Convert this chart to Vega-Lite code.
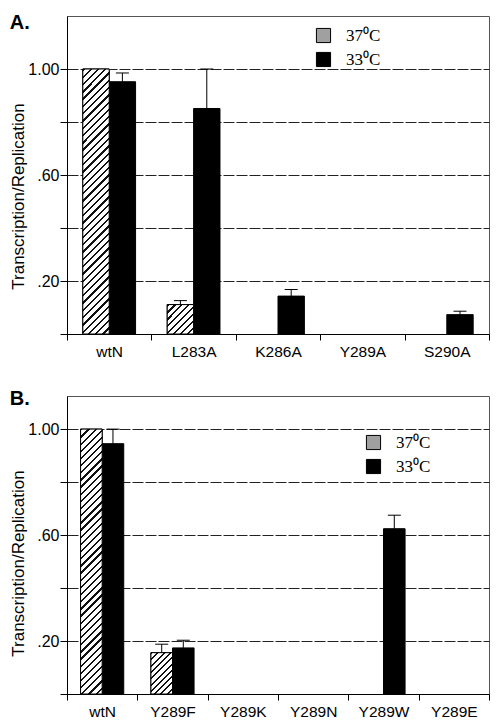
{
  "$schema": "https://vega.github.io/schema/vega-lite/v6.json",
  "padding": {"left": 9, "top": 12, "right": 3, "bottom": 0},
  "spacing": 28,
  "background": "white",
  "config": {
    "view": {"stroke": "#555", "strokeWidth": 1},
    "font": "Liberation Sans",
    "axisX": {"title": null, "labelAngle": 0, "tickBand": "extent", "tickSize": 6, "tickColor": "black", "domainColor": "black", "labelPadding": 4, "labelFontSize": 15.5, "labelColor": "black", "grid": false},
    "axisY": {"labelExpr": "datum.value == 1 ? '1.00' : datum.value == 0.6 ? '.60' : datum.value == 0.2 ? '.20' : ''", "grid": true, "gridDash": [11, 2], "gridColor": "#222", "gridOpacity": 1, "tickSize": 7, "tickColor": "black", "domainColor": "black", "labelPadding": 1, "labelFontSize": 16, "labelColor": "black", "titleFontSize": 17, "titleFontWeight": "normal", "titleColor": "black", "titlePadding": 0},
    "legend": {"title": null, "orient": "none", "symbolType": "square", "symbolSize": 200, "symbolStrokeColor": "black", "symbolStrokeWidth": 1, "symbolOpacity": 1, "labelFont": "Liberation Serif", "labelFontSize": 17, "labelOffset": 14, "rowPadding": 5, "labelColor": "black"}
  },
  "datasets": {
    "A": [
      {"mutant": "wtN", "temp": "37⁰C", "value": 1.0, "upper": null},
      {"mutant": "wtN", "temp": "33⁰C", "value": 0.952, "upper": 0.985},
      {"mutant": "L283A", "temp": "37⁰C", "value": 0.111, "upper": 0.126},
      {"mutant": "L283A", "temp": "33⁰C", "value": 0.851, "upper": 1.0},
      {"mutant": "K286A", "temp": "37⁰C", "value": 0, "upper": null},
      {"mutant": "K286A", "temp": "33⁰C", "value": 0.143, "upper": 0.168},
      {"mutant": "Y289A", "temp": "37⁰C", "value": 0, "upper": null},
      {"mutant": "Y289A", "temp": "33⁰C", "value": 0, "upper": null},
      {"mutant": "S290A", "temp": "37⁰C", "value": 0, "upper": null},
      {"mutant": "S290A", "temp": "33⁰C", "value": 0.073, "upper": 0.086}
    ],
    "B": [
      {"mutant": "wtN", "temp": "37⁰C", "value": 1.0, "upper": null},
      {"mutant": "wtN", "temp": "33⁰C", "value": 0.945, "upper": 1.0},
      {"mutant": "Y289F", "temp": "37⁰C", "value": 0.156, "upper": 0.188},
      {"mutant": "Y289F", "temp": "33⁰C", "value": 0.174, "upper": 0.203},
      {"mutant": "Y289K", "temp": "37⁰C", "value": 0, "upper": null},
      {"mutant": "Y289K", "temp": "33⁰C", "value": 0, "upper": null},
      {"mutant": "Y289N", "temp": "37⁰C", "value": 0, "upper": null},
      {"mutant": "Y289N", "temp": "33⁰C", "value": 0, "upper": null},
      {"mutant": "Y289W", "temp": "37⁰C", "value": 0, "upper": null},
      {"mutant": "Y289W", "temp": "33⁰C", "value": 0.624, "upper": 0.675},
      {"mutant": "Y289E", "temp": "37⁰C", "value": 0, "upper": null},
      {"mutant": "Y289E", "temp": "33⁰C", "value": 0, "upper": null}
    ]
  },
  "vconcat": [
    {
      "title": {"text": "A.", "anchor": "start", "frame": "bounds", "offset": 4, "dy": 21, "fontSize": 20, "fontWeight": "bold", "font": "Liberation Sans", "color": "black"},
      "width": 422,
      "height": 318,
      "data": {"name": "A"},
      "encoding": {
        "x": {"field": "mutant", "type": "nominal", "sort": null, "scale": {"domain": ["wtN", "L283A", "K286A", "Y289A", "S290A"], "paddingInner": 0, "paddingOuter": 0}},
        "xOffset": {"field": "temp", "type": "nominal", "sort": ["37⁰C", "33⁰C"], "scale": {"domain": ["37⁰C", "33⁰C"], "paddingInner": 0, "paddingOuter": 0.6}},
        "y": {"field": "value", "type": "quantitative", "title": "Transcription/Replication", "scale": {"domain": [0, 1.2], "nice": false}, "axis": {"values": [0, 0.2, 0.4, 0.6, 0.8, 1], "titleY": 180}}
      },
      "layer": [
        {
          "transform": [{"filter": "datum.value > 0"}],
          "mark": {"type": "bar", "stroke": "black", "strokeWidth": 1},
          "encoding": {
            "color": {"field": "temp", "type": "nominal", "sort": ["37⁰C", "33⁰C"], "scale": {"domain": ["37⁰C", "33⁰C"], "range": ["#a0a0a0", "black"]},
              "legend": {"legendX": 248, "legendY": 11}}
          }
        },
        {
          "transform": [{"filter": "datum.temp === '37⁰C' && datum.value > 0.5"}],
          "mark": {"type": "bar", "stroke": "black", "strokeWidth": 1, "fill": {"gradient": "linear", "x1": 0, "y1": 0, "x2": 0.1085, "y2": 1.0888, "stops": [
            {"offset": 0, "color": "#111"}, {"offset": 0.008, "color": "#111"}, {"offset": 0.008, "color": "#fff"}, {"offset": 0.025, "color": "#fff"},
            {"offset": 0.025, "color": "#111"}, {"offset": 0.033, "color": "#111"}, {"offset": 0.033, "color": "#fff"}, {"offset": 0.05, "color": "#fff"},
            {"offset": 0.05, "color": "#111"}, {"offset": 0.058, "color": "#111"}, {"offset": 0.058, "color": "#fff"}, {"offset": 0.075, "color": "#fff"},
            {"offset": 0.075, "color": "#111"}, {"offset": 0.083, "color": "#111"}, {"offset": 0.083, "color": "#fff"}, {"offset": 0.1, "color": "#fff"},
            {"offset": 0.1, "color": "#111"}, {"offset": 0.108, "color": "#111"}, {"offset": 0.108, "color": "#fff"}, {"offset": 0.125, "color": "#fff"},
            {"offset": 0.125, "color": "#111"}, {"offset": 0.133, "color": "#111"}, {"offset": 0.133, "color": "#fff"}, {"offset": 0.15, "color": "#fff"},
            {"offset": 0.15, "color": "#111"}, {"offset": 0.158, "color": "#111"}, {"offset": 0.158, "color": "#fff"}, {"offset": 0.175, "color": "#fff"},
            {"offset": 0.175, "color": "#111"}, {"offset": 0.183, "color": "#111"}, {"offset": 0.183, "color": "#fff"}, {"offset": 0.2, "color": "#fff"},
            {"offset": 0.2, "color": "#111"}, {"offset": 0.208, "color": "#111"}, {"offset": 0.208, "color": "#fff"}, {"offset": 0.225, "color": "#fff"},
            {"offset": 0.225, "color": "#111"}, {"offset": 0.233, "color": "#111"}, {"offset": 0.233, "color": "#fff"}, {"offset": 0.25, "color": "#fff"},
            {"offset": 0.25, "color": "#111"}, {"offset": 0.258, "color": "#111"}, {"offset": 0.258, "color": "#fff"}, {"offset": 0.275, "color": "#fff"},
            {"offset": 0.275, "color": "#111"}, {"offset": 0.283, "color": "#111"}, {"offset": 0.283, "color": "#fff"}, {"offset": 0.3, "color": "#fff"},
            {"offset": 0.3, "color": "#111"}, {"offset": 0.308, "color": "#111"}, {"offset": 0.308, "color": "#fff"}, {"offset": 0.325, "color": "#fff"},
            {"offset": 0.325, "color": "#111"}, {"offset": 0.333, "color": "#111"}, {"offset": 0.333, "color": "#fff"}, {"offset": 0.35, "color": "#fff"},
            {"offset": 0.35, "color": "#111"}, {"offset": 0.358, "color": "#111"}, {"offset": 0.358, "color": "#fff"}, {"offset": 0.375, "color": "#fff"},
            {"offset": 0.375, "color": "#111"}, {"offset": 0.383, "color": "#111"}, {"offset": 0.383, "color": "#fff"}, {"offset": 0.4, "color": "#fff"},
            {"offset": 0.4, "color": "#111"}, {"offset": 0.408, "color": "#111"}, {"offset": 0.408, "color": "#fff"}, {"offset": 0.425, "color": "#fff"},
            {"offset": 0.425, "color": "#111"}, {"offset": 0.433, "color": "#111"}, {"offset": 0.433, "color": "#fff"}, {"offset": 0.45, "color": "#fff"},
            {"offset": 0.45, "color": "#111"}, {"offset": 0.458, "color": "#111"}, {"offset": 0.458, "color": "#fff"}, {"offset": 0.475, "color": "#fff"},
            {"offset": 0.475, "color": "#111"}, {"offset": 0.483, "color": "#111"}, {"offset": 0.483, "color": "#fff"}, {"offset": 0.5, "color": "#fff"},
            {"offset": 0.5, "color": "#111"}, {"offset": 0.508, "color": "#111"}, {"offset": 0.508, "color": "#fff"}, {"offset": 0.525, "color": "#fff"},
            {"offset": 0.525, "color": "#111"}, {"offset": 0.533, "color": "#111"}, {"offset": 0.533, "color": "#fff"}, {"offset": 0.55, "color": "#fff"},
            {"offset": 0.55, "color": "#111"}, {"offset": 0.558, "color": "#111"}, {"offset": 0.558, "color": "#fff"}, {"offset": 0.575, "color": "#fff"},
            {"offset": 0.575, "color": "#111"}, {"offset": 0.583, "color": "#111"}, {"offset": 0.583, "color": "#fff"}, {"offset": 0.6, "color": "#fff"},
            {"offset": 0.6, "color": "#111"}, {"offset": 0.608, "color": "#111"}, {"offset": 0.608, "color": "#fff"}, {"offset": 0.625, "color": "#fff"},
            {"offset": 0.625, "color": "#111"}, {"offset": 0.633, "color": "#111"}, {"offset": 0.633, "color": "#fff"}, {"offset": 0.65, "color": "#fff"},
            {"offset": 0.65, "color": "#111"}, {"offset": 0.658, "color": "#111"}, {"offset": 0.658, "color": "#fff"}, {"offset": 0.675, "color": "#fff"},
            {"offset": 0.675, "color": "#111"}, {"offset": 0.683, "color": "#111"}, {"offset": 0.683, "color": "#fff"}, {"offset": 0.7, "color": "#fff"},
            {"offset": 0.7, "color": "#111"}, {"offset": 0.708, "color": "#111"}, {"offset": 0.708, "color": "#fff"}, {"offset": 0.725, "color": "#fff"},
            {"offset": 0.725, "color": "#111"}, {"offset": 0.733, "color": "#111"}, {"offset": 0.733, "color": "#fff"}, {"offset": 0.75, "color": "#fff"},
            {"offset": 0.75, "color": "#111"}, {"offset": 0.758, "color": "#111"}, {"offset": 0.758, "color": "#fff"}, {"offset": 0.775, "color": "#fff"},
            {"offset": 0.775, "color": "#111"}, {"offset": 0.783, "color": "#111"}, {"offset": 0.783, "color": "#fff"}, {"offset": 0.8, "color": "#fff"},
            {"offset": 0.8, "color": "#111"}, {"offset": 0.808, "color": "#111"}, {"offset": 0.808, "color": "#fff"}, {"offset": 0.825, "color": "#fff"},
            {"offset": 0.825, "color": "#111"}, {"offset": 0.833, "color": "#111"}, {"offset": 0.833, "color": "#fff"}, {"offset": 0.85, "color": "#fff"},
            {"offset": 0.85, "color": "#111"}, {"offset": 0.858, "color": "#111"}, {"offset": 0.858, "color": "#fff"}, {"offset": 0.875, "color": "#fff"},
            {"offset": 0.875, "color": "#111"}, {"offset": 0.883, "color": "#111"}, {"offset": 0.883, "color": "#fff"}, {"offset": 0.9, "color": "#fff"},
            {"offset": 0.9, "color": "#111"}, {"offset": 0.908, "color": "#111"}, {"offset": 0.908, "color": "#fff"}, {"offset": 0.925, "color": "#fff"},
            {"offset": 0.925, "color": "#111"}, {"offset": 0.933, "color": "#111"}, {"offset": 0.933, "color": "#fff"}, {"offset": 0.95, "color": "#fff"},
            {"offset": 0.95, "color": "#111"}, {"offset": 0.958, "color": "#111"}, {"offset": 0.958, "color": "#fff"}, {"offset": 0.975, "color": "#fff"},
            {"offset": 0.975, "color": "#111"}, {"offset": 0.983, "color": "#111"}, {"offset": 0.983, "color": "#fff"}, {"offset": 1, "color": "#fff"}
          ]}}
        },
        {
          "transform": [{"filter": "datum.temp === '37⁰C' && datum.value > 0 && datum.value <= 0.5"}],
          "mark": {"type": "bar", "stroke": "black", "strokeWidth": 1, "fill": {"gradient": "linear", "x1": 0, "y1": 0, "x2": 0.944, "y2": 1.051, "stops": [
            {"offset": 0, "color": "#111"}, {"offset": 0.04, "color": "#111"}, {"offset": 0.04, "color": "#fff"}, {"offset": 0.125, "color": "#fff"},
            {"offset": 0.125, "color": "#111"}, {"offset": 0.165, "color": "#111"}, {"offset": 0.165, "color": "#fff"}, {"offset": 0.25, "color": "#fff"},
            {"offset": 0.25, "color": "#111"}, {"offset": 0.29, "color": "#111"}, {"offset": 0.29, "color": "#fff"}, {"offset": 0.375, "color": "#fff"},
            {"offset": 0.375, "color": "#111"}, {"offset": 0.415, "color": "#111"}, {"offset": 0.415, "color": "#fff"}, {"offset": 0.5, "color": "#fff"},
            {"offset": 0.5, "color": "#111"}, {"offset": 0.54, "color": "#111"}, {"offset": 0.54, "color": "#fff"}, {"offset": 0.625, "color": "#fff"},
            {"offset": 0.625, "color": "#111"}, {"offset": 0.665, "color": "#111"}, {"offset": 0.665, "color": "#fff"}, {"offset": 0.75, "color": "#fff"},
            {"offset": 0.75, "color": "#111"}, {"offset": 0.79, "color": "#111"}, {"offset": 0.79, "color": "#fff"}, {"offset": 0.875, "color": "#fff"},
            {"offset": 0.875, "color": "#111"}, {"offset": 0.915, "color": "#111"}, {"offset": 0.915, "color": "#fff"}, {"offset": 1, "color": "#fff"}
          ]}}
        },
        {
          "transform": [{"filter": "datum.upper != null"}],
          "mark": {"type": "rule", "color": "black", "strokeWidth": 1},
          "encoding": {
            "y2": {"field": "upper"}
          }
        },
        {
          "transform": [{"filter": "datum.upper != null"}],
          "mark": {"type": "tick", "color": "black", "thickness": 1, "size": 13, "orient": "horizontal", "opacity": 1},
          "encoding": {
            "y": {"field": "upper", "type": "quantitative", "title": "Transcription/Replication", "axis": {"values": [0, 0.2, 0.4, 0.6, 0.8, 1], "titleY": 180}}
          }
        }
      ]
    },
    {
      "title": {"text": "B.", "anchor": "start", "frame": "bounds", "offset": 4, "dy": 17, "fontSize": 20, "fontWeight": "bold", "font": "Liberation Sans", "color": "black"},
      "width": 422,
      "height": 298,
      "data": {"name": "B"},
      "encoding": {
        "x": {"field": "mutant", "type": "nominal", "sort": null, "scale": {"domain": ["wtN", "Y289F", "Y289K", "Y289N", "Y289W", "Y289E"], "paddingInner": 0, "paddingOuter": 0}},
        "xOffset": {"field": "temp", "type": "nominal", "sort": ["37⁰C", "33⁰C"], "scale": {"domain": ["37⁰C", "33⁰C"], "paddingInner": 0, "paddingOuter": 0.63}},
        "y": {"field": "value", "type": "quantitative", "title": "Transcription/Replication", "scale": {"domain": [0, 1.125], "nice": false}, "axis": {"values": [0, 0.2, 0.4, 0.6, 0.8, 1], "titleY": 167}}
      },
      "layer": [
        {
          "transform": [{"filter": "datum.value > 0"}],
          "mark": {"type": "bar", "stroke": "black", "strokeWidth": 1},
          "encoding": {
            "color": {"field": "temp", "type": "nominal", "sort": ["37⁰C", "33⁰C"], "scale": {"domain": ["37⁰C", "33⁰C"], "range": ["#a0a0a0", "black"]},
              "legend": {"legendX": 298, "legendY": 38}}
          }
        },
        {
          "transform": [{"filter": "datum.temp === '37⁰C' && datum.value > 0.5"}],
          "mark": {"type": "bar", "stroke": "black", "strokeWidth": 1, "fill": {"gradient": "linear", "x1": 0, "y1": 0, "x2": 0.0876, "y2": 1.0744, "stops": [
            {"offset": 0, "color": "#111"}, {"offset": 0.008, "color": "#111"}, {"offset": 0.008, "color": "#fff"}, {"offset": 0.025, "color": "#fff"},
            {"offset": 0.025, "color": "#111"}, {"offset": 0.033, "color": "#111"}, {"offset": 0.033, "color": "#fff"}, {"offset": 0.05, "color": "#fff"},
            {"offset": 0.05, "color": "#111"}, {"offset": 0.058, "color": "#111"}, {"offset": 0.058, "color": "#fff"}, {"offset": 0.075, "color": "#fff"},
            {"offset": 0.075, "color": "#111"}, {"offset": 0.083, "color": "#111"}, {"offset": 0.083, "color": "#fff"}, {"offset": 0.1, "color": "#fff"},
            {"offset": 0.1, "color": "#111"}, {"offset": 0.108, "color": "#111"}, {"offset": 0.108, "color": "#fff"}, {"offset": 0.125, "color": "#fff"},
            {"offset": 0.125, "color": "#111"}, {"offset": 0.133, "color": "#111"}, {"offset": 0.133, "color": "#fff"}, {"offset": 0.15, "color": "#fff"},
            {"offset": 0.15, "color": "#111"}, {"offset": 0.158, "color": "#111"}, {"offset": 0.158, "color": "#fff"}, {"offset": 0.175, "color": "#fff"},
            {"offset": 0.175, "color": "#111"}, {"offset": 0.183, "color": "#111"}, {"offset": 0.183, "color": "#fff"}, {"offset": 0.2, "color": "#fff"},
            {"offset": 0.2, "color": "#111"}, {"offset": 0.208, "color": "#111"}, {"offset": 0.208, "color": "#fff"}, {"offset": 0.225, "color": "#fff"},
            {"offset": 0.225, "color": "#111"}, {"offset": 0.233, "color": "#111"}, {"offset": 0.233, "color": "#fff"}, {"offset": 0.25, "color": "#fff"},
            {"offset": 0.25, "color": "#111"}, {"offset": 0.258, "color": "#111"}, {"offset": 0.258, "color": "#fff"}, {"offset": 0.275, "color": "#fff"},
            {"offset": 0.275, "color": "#111"}, {"offset": 0.283, "color": "#111"}, {"offset": 0.283, "color": "#fff"}, {"offset": 0.3, "color": "#fff"},
            {"offset": 0.3, "color": "#111"}, {"offset": 0.308, "color": "#111"}, {"offset": 0.308, "color": "#fff"}, {"offset": 0.325, "color": "#fff"},
            {"offset": 0.325, "color": "#111"}, {"offset": 0.333, "color": "#111"}, {"offset": 0.333, "color": "#fff"}, {"offset": 0.35, "color": "#fff"},
            {"offset": 0.35, "color": "#111"}, {"offset": 0.358, "color": "#111"}, {"offset": 0.358, "color": "#fff"}, {"offset": 0.375, "color": "#fff"},
            {"offset": 0.375, "color": "#111"}, {"offset": 0.383, "color": "#111"}, {"offset": 0.383, "color": "#fff"}, {"offset": 0.4, "color": "#fff"},
            {"offset": 0.4, "color": "#111"}, {"offset": 0.408, "color": "#111"}, {"offset": 0.408, "color": "#fff"}, {"offset": 0.425, "color": "#fff"},
            {"offset": 0.425, "color": "#111"}, {"offset": 0.433, "color": "#111"}, {"offset": 0.433, "color": "#fff"}, {"offset": 0.45, "color": "#fff"},
            {"offset": 0.45, "color": "#111"}, {"offset": 0.458, "color": "#111"}, {"offset": 0.458, "color": "#fff"}, {"offset": 0.475, "color": "#fff"},
            {"offset": 0.475, "color": "#111"}, {"offset": 0.483, "color": "#111"}, {"offset": 0.483, "color": "#fff"}, {"offset": 0.5, "color": "#fff"},
            {"offset": 0.5, "color": "#111"}, {"offset": 0.508, "color": "#111"}, {"offset": 0.508, "color": "#fff"}, {"offset": 0.525, "color": "#fff"},
            {"offset": 0.525, "color": "#111"}, {"offset": 0.533, "color": "#111"}, {"offset": 0.533, "color": "#fff"}, {"offset": 0.55, "color": "#fff"},
            {"offset": 0.55, "color": "#111"}, {"offset": 0.558, "color": "#111"}, {"offset": 0.558, "color": "#fff"}, {"offset": 0.575, "color": "#fff"},
            {"offset": 0.575, "color": "#111"}, {"offset": 0.583, "color": "#111"}, {"offset": 0.583, "color": "#fff"}, {"offset": 0.6, "color": "#fff"},
            {"offset": 0.6, "color": "#111"}, {"offset": 0.608, "color": "#111"}, {"offset": 0.608, "color": "#fff"}, {"offset": 0.625, "color": "#fff"},
            {"offset": 0.625, "color": "#111"}, {"offset": 0.633, "color": "#111"}, {"offset": 0.633, "color": "#fff"}, {"offset": 0.65, "color": "#fff"},
            {"offset": 0.65, "color": "#111"}, {"offset": 0.658, "color": "#111"}, {"offset": 0.658, "color": "#fff"}, {"offset": 0.675, "color": "#fff"},
            {"offset": 0.675, "color": "#111"}, {"offset": 0.683, "color": "#111"}, {"offset": 0.683, "color": "#fff"}, {"offset": 0.7, "color": "#fff"},
            {"offset": 0.7, "color": "#111"}, {"offset": 0.708, "color": "#111"}, {"offset": 0.708, "color": "#fff"}, {"offset": 0.725, "color": "#fff"},
            {"offset": 0.725, "color": "#111"}, {"offset": 0.733, "color": "#111"}, {"offset": 0.733, "color": "#fff"}, {"offset": 0.75, "color": "#fff"},
            {"offset": 0.75, "color": "#111"}, {"offset": 0.758, "color": "#111"}, {"offset": 0.758, "color": "#fff"}, {"offset": 0.775, "color": "#fff"},
            {"offset": 0.775, "color": "#111"}, {"offset": 0.783, "color": "#111"}, {"offset": 0.783, "color": "#fff"}, {"offset": 0.8, "color": "#fff"},
            {"offset": 0.8, "color": "#111"}, {"offset": 0.808, "color": "#111"}, {"offset": 0.808, "color": "#fff"}, {"offset": 0.825, "color": "#fff"},
            {"offset": 0.825, "color": "#111"}, {"offset": 0.833, "color": "#111"}, {"offset": 0.833, "color": "#fff"}, {"offset": 0.85, "color": "#fff"},
            {"offset": 0.85, "color": "#111"}, {"offset": 0.858, "color": "#111"}, {"offset": 0.858, "color": "#fff"}, {"offset": 0.875, "color": "#fff"},
            {"offset": 0.875, "color": "#111"}, {"offset": 0.883, "color": "#111"}, {"offset": 0.883, "color": "#fff"}, {"offset": 0.9, "color": "#fff"},
            {"offset": 0.9, "color": "#111"}, {"offset": 0.908, "color": "#111"}, {"offset": 0.908, "color": "#fff"}, {"offset": 0.925, "color": "#fff"},
            {"offset": 0.925, "color": "#111"}, {"offset": 0.933, "color": "#111"}, {"offset": 0.933, "color": "#fff"}, {"offset": 0.95, "color": "#fff"},
            {"offset": 0.95, "color": "#111"}, {"offset": 0.958, "color": "#111"}, {"offset": 0.958, "color": "#fff"}, {"offset": 0.975, "color": "#fff"},
            {"offset": 0.975, "color": "#111"}, {"offset": 0.983, "color": "#111"}, {"offset": 0.983, "color": "#fff"}, {"offset": 1, "color": "#fff"}
          ]}}
        },
        {
          "transform": [{"filter": "datum.temp === '37⁰C' && datum.value > 0 && datum.value <= 0.5"}],
          "mark": {"type": "bar", "stroke": "black", "strokeWidth": 1, "fill": {"gradient": "linear", "x1": 0, "y1": 0, "x2": 0.6254, "y2": 1.1958, "stops": [
            {"offset": 0, "color": "#111"}, {"offset": 0.032, "color": "#111"}, {"offset": 0.032, "color": "#fff"}, {"offset": 0.1, "color": "#fff"},
            {"offset": 0.1, "color": "#111"}, {"offset": 0.132, "color": "#111"}, {"offset": 0.132, "color": "#fff"}, {"offset": 0.2, "color": "#fff"},
            {"offset": 0.2, "color": "#111"}, {"offset": 0.232, "color": "#111"}, {"offset": 0.232, "color": "#fff"}, {"offset": 0.3, "color": "#fff"},
            {"offset": 0.3, "color": "#111"}, {"offset": 0.332, "color": "#111"}, {"offset": 0.332, "color": "#fff"}, {"offset": 0.4, "color": "#fff"},
            {"offset": 0.4, "color": "#111"}, {"offset": 0.432, "color": "#111"}, {"offset": 0.432, "color": "#fff"}, {"offset": 0.5, "color": "#fff"},
            {"offset": 0.5, "color": "#111"}, {"offset": 0.532, "color": "#111"}, {"offset": 0.532, "color": "#fff"}, {"offset": 0.6, "color": "#fff"},
            {"offset": 0.6, "color": "#111"}, {"offset": 0.632, "color": "#111"}, {"offset": 0.632, "color": "#fff"}, {"offset": 0.7, "color": "#fff"},
            {"offset": 0.7, "color": "#111"}, {"offset": 0.732, "color": "#111"}, {"offset": 0.732, "color": "#fff"}, {"offset": 0.8, "color": "#fff"},
            {"offset": 0.8, "color": "#111"}, {"offset": 0.832, "color": "#111"}, {"offset": 0.832, "color": "#fff"}, {"offset": 0.9, "color": "#fff"},
            {"offset": 0.9, "color": "#111"}, {"offset": 0.932, "color": "#111"}, {"offset": 0.932, "color": "#fff"}, {"offset": 1, "color": "#fff"}
          ]}}
        },
        {
          "transform": [{"filter": "datum.upper != null"}],
          "mark": {"type": "rule", "color": "black", "strokeWidth": 1},
          "encoding": {
            "y2": {"field": "upper"}
          }
        },
        {
          "transform": [{"filter": "datum.upper != null"}],
          "mark": {"type": "tick", "color": "black", "thickness": 1, "size": 13, "orient": "horizontal", "opacity": 1},
          "encoding": {
            "y": {"field": "upper", "type": "quantitative", "title": "Transcription/Replication", "axis": {"values": [0, 0.2, 0.4, 0.6, 0.8, 1], "titleY": 167}}
          }
        }
      ]
    }
  ],
  "resolve": {"scale": {"x": "independent", "xOffset": "independent", "y": "independent", "color": "independent"}, "legend": {"color": "independent"}, "axis": {"x": "independent", "y": "independent"}}
}
